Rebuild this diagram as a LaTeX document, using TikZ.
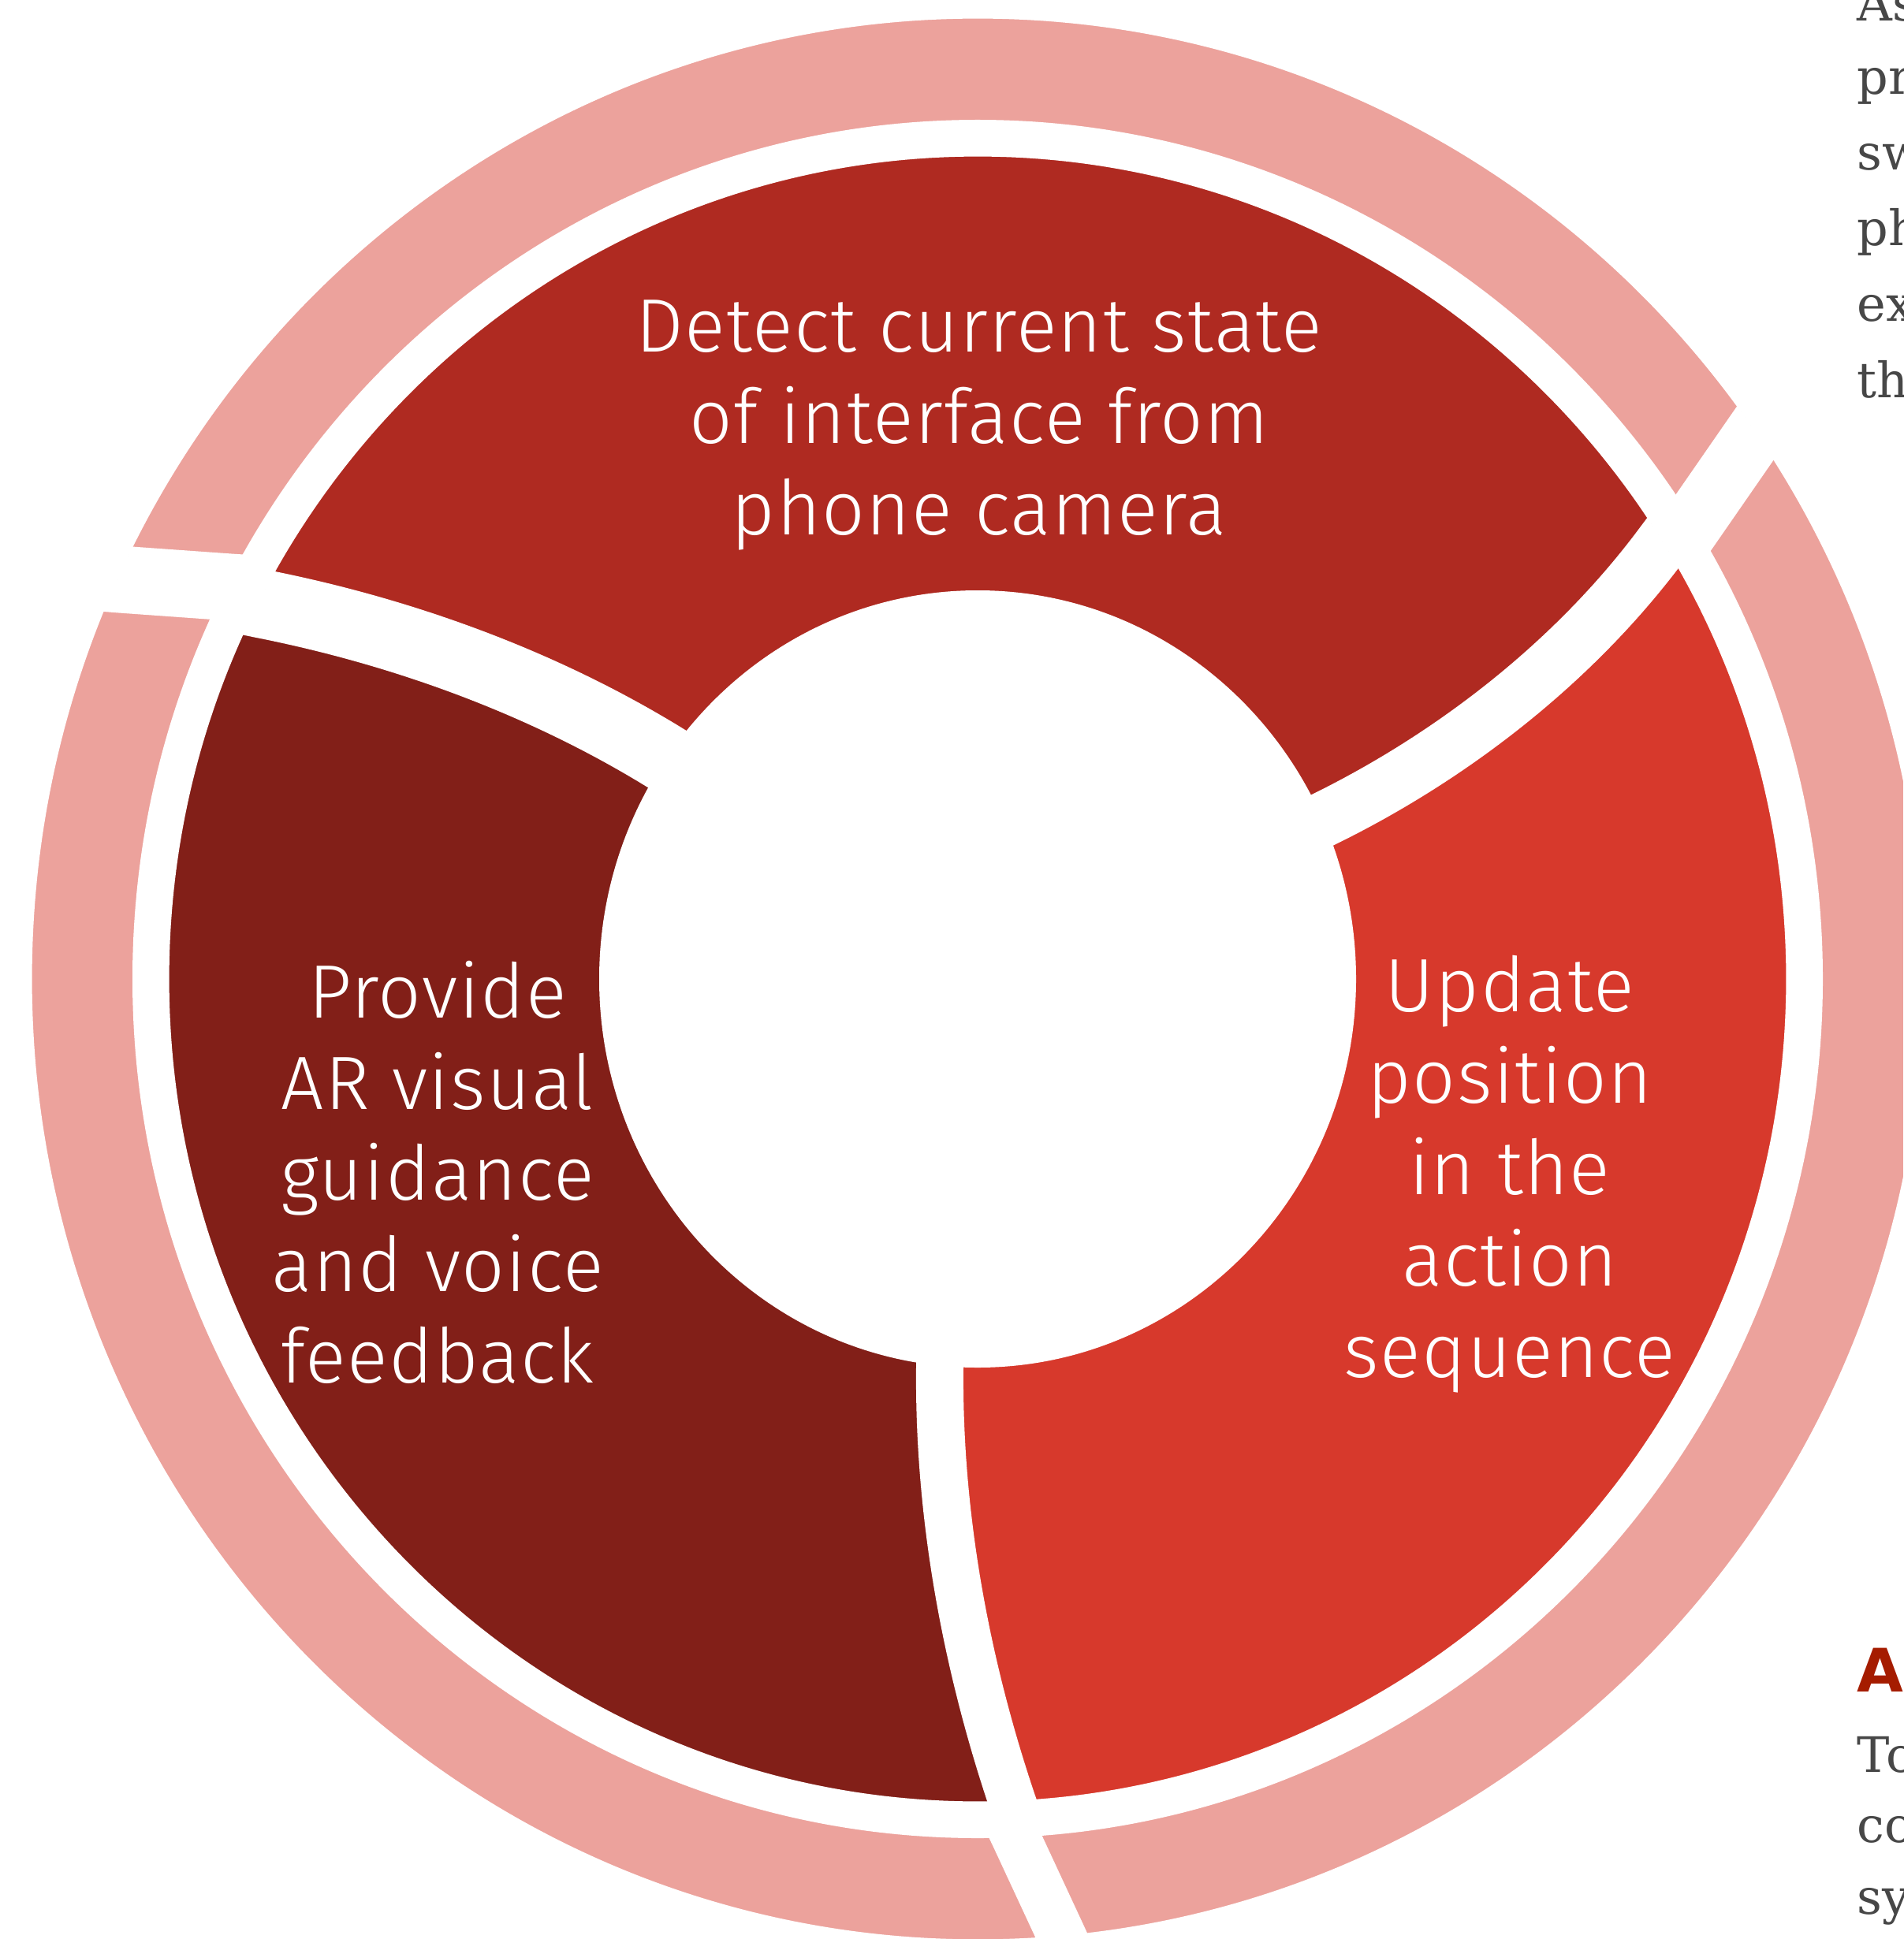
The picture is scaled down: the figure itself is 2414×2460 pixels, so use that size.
\documentclass[tikz,border=0pt]{standalone}
\usepackage{fontspec}
\newfontfamily\lblfont[LetterSpace=1.5]{Fira Sans Light}
\newfontfamily\serfont{DejaVu Serif}
\newfontfamily\boldsans{DejaVu Sans}
\definecolor{pinkc}{HTML}{ECA29C}
\definecolor{topc}{HTML}{AF2A21}
\definecolor{leftc}{HTML}{821F18}
\definecolor{rightc}{HTML}{D7392C}
\definecolor{graytext}{HTML}{474747}
\definecolor{redhead}{HTML}{A51C00}
\tikzset{
  lbl/.style={text=white, anchor=base, inner sep=0pt, font=\lblfont\fontsize{24pt}{29pt}\selectfont},
  frag/.style={text=graytext, anchor=base west, inner sep=0pt, font=\serfont\fontsize{15.5pt}{19pt}\selectfont},
  fraghead/.style={text=redhead, anchor=base west, inner sep=0pt, font=\boldsans\bfseries\fontsize{19pt}{23pt}\selectfont},
  gapline/.style={draw=white, line cap=butt, line join=round},
  seam/.style={draw=white, line width=0.8pt}
}
\begin{document}
\begin{tikzpicture}[x=0.25pt,y=-0.25pt]
\useasboundingbox (0,0) rectangle (2414,2460);
\clip (0,0) rectangle (2414,2460);
\fill[white] (0,0) rectangle (2414,2460);

% outer pink ring: pink disc, its three gaps, then the white ring inside it
\begin{scope}
\clip (1240,1242) ellipse [x radius=1200, y radius=1219];
\fill[pinkc] (0,0) rectangle (2414,2460);
\draw[gapline, line width=21.25pt] (40,726) -- (152,735) -- (292,745) -- (400,752);
\draw[gapline, line width=19.25pt] (2290,458) -- (2226,550) -- (2145,667) -- (2090,746);
\draw[gapline, line width=15.5pt] (1250,2250) -- (1288,2330) -- (1347,2457) -- (1380,2530);
\end{scope}
\draw[seam] (1240,1242) ellipse [x radius=1201, y radius=1220];
\fill[white] (1240,1242) ellipse [x radius=1072, y radius=1090];

% coloured ring: three segments and their curved gaps
\begin{scope}
\clip (1240,1242) ellipse [x radius=1026, y radius=1044];
\fill[topc] (0,0) rectangle (2414,2460);
\fill[leftc] (249,749) -- (332,766) .. controls (514,802) and (694,868) .. (851,966) -- (953,1030)
  -- (1240,1242) -- (1193,1640) -- (1192,1734) .. controls (1190,1919) and (1224,2107) .. (1283,2283) -- (1309,2359)
  -- (1309,2600) -- (-100,2600) -- (-100,749) -- cycle;
\fill[rightc] (2166,613) -- (2106,693) .. controls (1996,840) and (1842,960) .. (1676,1041) -- (1586,1085)
  -- (1240,1242) -- (1193,1640) -- (1192,1734) .. controls (1190,1919) and (1224,2107) .. (1283,2283) -- (1309,2359)
  -- (1309,2600) -- (2600,2600) -- (2600,613) -- cycle;
\draw[gapline, line width=21.75pt] (249,749) -- (332,766) .. controls (514,802) and (694,868) .. (851,966) -- (953,1030);
\draw[gapline, line width=17.5pt] (2166,613) -- (2106,693) .. controls (1996,840) and (1842,960) .. (1676,1041) -- (1586,1085);
\draw[gapline, line width=15pt] (1193,1640) -- (1192,1734) .. controls (1190,1919) and (1224,2107) .. (1283,2283) -- (1309,2359);
\end{scope}
\draw[seam] (1240,1242) ellipse [x radius=1027, y radius=1045];
\fill[white] (1240,1242) ellipse [x radius=480, y radius=493];

% labels
\node[lbl] (t1) at (1242,447) {Detect current state};
\node[lbl] (t2) at (1242,562) {of interface from};
\node[lbl] (t3) at (1242,678) {phone camera};

\node[lbl] (l1) at (555,1291) {Provide};
\node[lbl] (l2) at (555,1407) {AR visual};
\node[lbl] (l3) at (555,1522) {guidance};
\node[lbl] (l4) at (555,1638) {and voice};
\node[lbl] (l5) at (555,1754) {feedback};

\node[lbl] (r1) at (1915,1283) {Update};
\node[lbl] (r2) at (1915,1399) {position};
\node[lbl] (r3) at (1915,1515) {in the};
\node[lbl] (r4) at (1915,1631) {action};
\node[lbl] (r5) at (1915,1747) {sequence};

% clipped running text at the right edge
\node[frag] (f1) at (2355,27) {As};
\node[frag] (f2) at (2355,120) {pr};
\node[frag] (f3) at (2355,216) {sw};
\node[frag] (f4) at (2355,312) {ph};
\node[frag] (f5) at (2355,408) {ex};
\node[frag] (f6) at (2355,504) {th};
\node[fraghead] (g1) at (2355,2146) {A};
\node[frag] (g2) at (2355,2248) {To};
\node[frag] (g3) at (2355,2337) {co};
\node[frag] (g4) at (2355,2428) {sy};
\end{tikzpicture}
\end{document}
